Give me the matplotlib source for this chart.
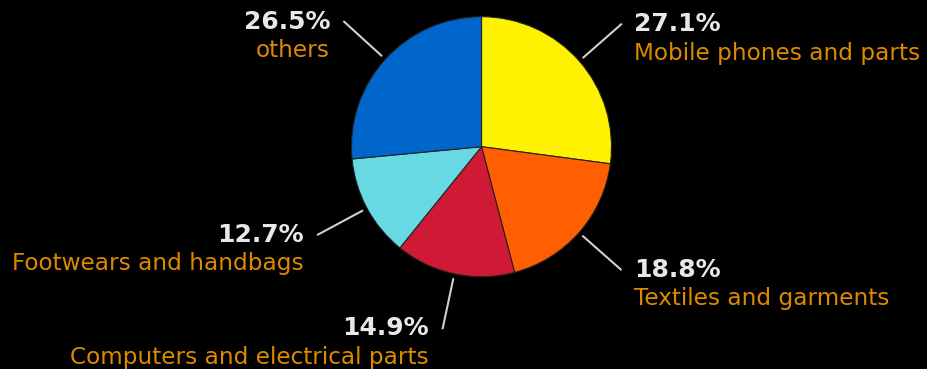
import numpy as np
import matplotlib

matplotlib.use("Agg")
import matplotlib.pyplot as plt

labels = ["Mobile phones and parts", "Textiles and garments",
          "Computers and electrical parts", "Footwears and handbags", "others"]
shares = [27.1, 18.8, 14.9, 12.7, 26.5]
colors = ["#FFF200", "#FF5F00", "#D01A35", "#66D9E3", "#0066CC"]

W, H = 927, 369
CX, CY, R = 481.5, H - 146.7, 130
PCT_C, LAB_C, LINE_C = "#E8E8E8", "#DB8A00", "#D0D0D0"

fig = plt.figure(figsize=(W / 100, H / 100), dpi=100, facecolor="black")
ax = fig.add_axes([0, 0, 1, 1])
ax.set_facecolor("black")

wedges, _ = ax.pie(shares, colors=colors, startangle=90, counterclock=False,
                   center=(CX, CY), radius=R,
                   wedgeprops=dict(edgecolor="#222222", linewidth=0.8))
ax.set_xlim(0, W)
ax.set_ylim(0, H)
ax.set_aspect("equal")
ax.set_axis_off()

# leader line + "pct" + category, pushed out along each wedge's mid angle
for w, lab, s in zip(wedges, labels, shares):
    mid = np.deg2rad((w.theta1 + w.theta2) / 2)
    c, sn = np.cos(mid), np.sin(mid)
    ex, ey = CX + 1.43 * R * c, CY + 1.43 * R * sn
    ax.plot([CX + 1.04 * R * c, ex], [CY + 1.04 * R * sn, ey],
            color=LINE_C, lw=1.5, solid_capstyle="round")
    if c > 0:
        tx, ha = ex + 13, "left"
    else:
        tx, ha = ex - 14, "right"
    ax.text(tx, ey, f"{s:.1f}%", color=PCT_C, fontsize=18,
            fontweight="bold", ha=ha, va="center")
    ax.text(tx, ey - 29, lab, color=LAB_C, fontsize=16.7, ha=ha, va="center")

fig.savefig("out.png", dpi=100, facecolor="black")
